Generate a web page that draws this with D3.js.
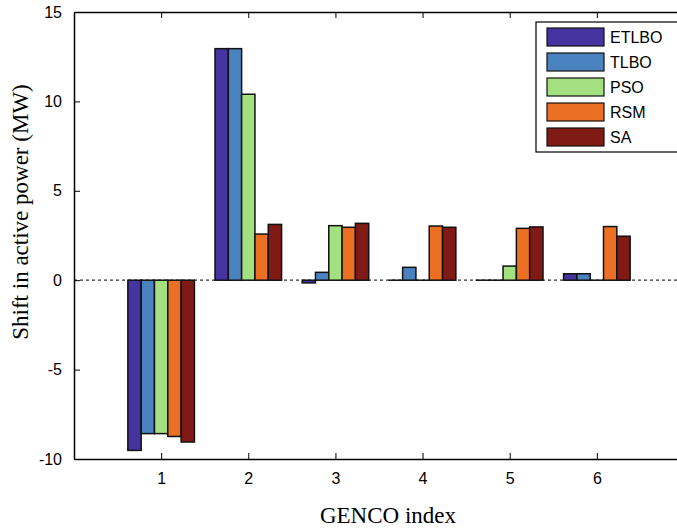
<!DOCTYPE html>
<html lang="en">
<head>
  <meta charset="UTF-8">
  <title>GENCO shift</title>
  <script src="https://d3js.org/d3.v7.min.js"></script>
  <style>
    body { margin: 0; background: #fff; }
    .tick text { font-family: "Liberation Sans", Arial, sans-serif; font-size: 16px; fill: #000; }
  </style>
</head>
<body>
  <div id="chart"></div>

  <script>
    // Data
    const gencos = [1, 2, 3, 4, 5, 6];
    const methods = ['ETLBO', 'TLBO', 'PSO', 'RSM', 'SA'];
    const colors = ['#4534a0', '#4a82c0', '#a2e080', '#ec7024', '#801a14'];
    const etlbo = [-9.52, 12.95, -0.15, 0, 0, 0.36];
    const tlbo = [-8.58, 12.95, 0.44, 0.72, 0, 0.36];
    const pso = [-8.58, 10.4, 3.05, 0, 0.79, 0];
    const rsm = [-8.74, 2.58, 2.96, 3.03, 2.9, 3.0];
    const sa = [-9.05, 3.12, 3.18, 2.96, 2.98, 2.46];
    const series = [etlbo, tlbo, pso, rsm, sa];
    const yTicks = [-10, -5, 0, 5, 10, 15];

    const margin = { top: 12, left: 74 };
    const width = 610;   // right edge falls outside the window, like the original
    const height = 447;

    const svg = d3.select('#chart').append('svg')
      .attr('width', 677)
      .attr('height', 529);

    const g = svg.append('g')
      .attr('transform', `translate(${margin.left},${margin.top})`);

    const x = d3.scaleLinear().domain([0, 7]).range([0, width]);
    const y = d3.scaleLinear().domain([-10, 15]).range([height, 0]);

    const groupW = 0.764;
    const barW = groupW / methods.length;

    // zero line
    g.append('line')
      .attr('x1', 0).attr('x2', width)
      .attr('y1', y(0)).attr('y2', y(0))
      .attr('stroke', '#333').attr('stroke-width', 1.2)
      .attr('stroke-dasharray', '3,3');

    // bars
    series.forEach((vals, j) => {
      g.append('g').selectAll('rect')
        .data(vals)
        .join('rect')
        .attr('x', (d, i) => x(gencos[i] - groupW / 2 + j * barW))
        .attr('width', x(barW) - x(0))
        .attr('y', d => y(Math.max(d, 0)))
        .attr('height', d => Math.max(Math.abs(y(d) - y(0)), 0.01))
        .attr('fill', colors[j])
        .attr('stroke', '#111')
        .attr('stroke-width', 1.5);
    });

    // axes (ticks inward, mirrored)
    g.append('g')
      .attr('transform', `translate(0,${height})`)
      .call(d3.axisBottom(x).tickValues(gencos).tickFormat(d => d)
        .tickSizeInner(-6).tickSizeOuter(0).tickPadding(14));
    g.append('g')
      .call(d3.axisTop(x).tickValues(gencos).tickSizeInner(-6).tickSizeOuter(0).tickFormat(''));
    g.append('g')
      .call(d3.axisLeft(y).tickValues(yTicks).tickFormat(d => String(d))
        .tickSizeInner(-6).tickSizeOuter(0).tickPadding(12));
    g.append('g')
      .attr('transform', `translate(${width},0)`)
      .call(d3.axisRight(y).tickValues(yTicks).tickSizeInner(-6).tickSizeOuter(0).tickFormat(''));

    g.selectAll('.domain').attr('stroke', '#000').attr('stroke-width', 1.5);
    g.selectAll('.tick line').attr('stroke', '#000').attr('stroke-width', 1);

    // axis titles
    svg.append('text')
      .attr('x', 388)
      .attr('y', 523)
      .attr('text-anchor', 'middle')
      .attr('font-family', '"Liberation Serif", "Times New Roman", serif')
      .attr('font-size', 23)
      .text('GENCO index');

    svg.append('text')
      .attr('transform', 'translate(28,212) rotate(-90)')
      .attr('text-anchor', 'middle')
      .attr('font-family', '"Liberation Serif", "Times New Roman", serif')
      .attr('font-size', 23)
      .text('Shift in active power (MW)');

    // legend
    const legend = svg.append('g').attr('transform', 'translate(536,22)');
    legend.append('rect')
      .attr('width', 142).attr('height', 130)
      .attr('fill', '#fff').attr('stroke', '#000').attr('stroke-width', 1.2);
    methods.forEach((m, j) => {
      const row = legend.append('g').attr('transform', `translate(11,${6 + j * 25})`);
      row.append('rect')
        .attr('width', 57).attr('height', 18)
        .attr('fill', colors[j]).attr('stroke', '#111').attr('stroke-width', 1.2);
      row.append('text')
        .attr('x', 63).attr('y', 15)
        .attr('font-family', '"Liberation Sans", Arial, sans-serif')
        .attr('font-size', 16)
        .text(m);
    });
  </script>
</body>
</html>
